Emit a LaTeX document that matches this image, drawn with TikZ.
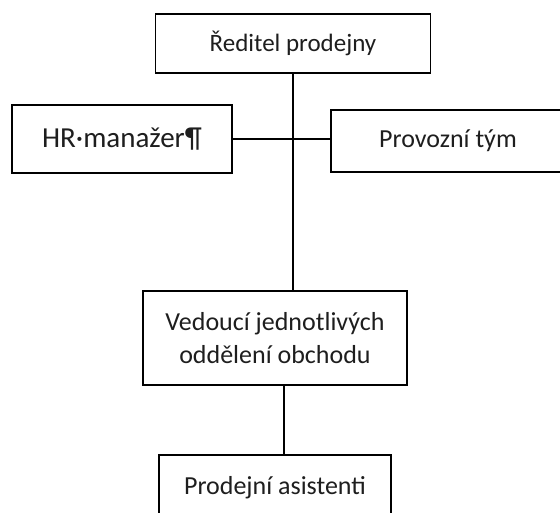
\documentclass[tikz,border=0pt]{standalone}
\usepackage{fontspec}
\setmainfont{Carlito}
\usepackage{xcolor}
\definecolor{textgray}{RGB}{30, 30, 30}

\begin{document}
\begin{tikzpicture}[x=1pt, y=-1pt,
    orgbox/.style={draw=black, line width=1.8pt, fill=white, text=textgray, font=\fontsize{26}{33}\selectfont, align=center, inner sep=0pt},
    link/.style={draw=black, line width=1.8pt}]
      \path[use as bounding box, clip] (0,0) rectangle (560,513);
      \node[orgbox, minimum width=275pt, minimum height=59pt, font=\fontsize{25}{30}\selectfont] (reditel) at (293, 43.5) {Ředitel prodejny};
      \node[orgbox, line width=2.6pt, minimum width=220pt, minimum height=68pt, font=\fontsize{29}{30}\selectfont] (hr) at (122, 139) {HR·manažer¶};
      \node[orgbox, minimum width=234pt, minimum height=62pt] (provoz) at (448, 141) {Provozní tým};
      \node[orgbox, minimum width=264pt, minimum height=94pt] (vedouci) at (275, 338) {Vedoucí jednotlivých\\oddělení obchodu};
      \node[orgbox, minimum width=232pt, minimum height=66pt] (prodej) at (275, 488) {Prodejní asistenti};

      \draw[link] (reditel.south) -- (reditel.south |- vedouci.north);
      \draw[link] (hr.east) -- (hr.east -| provoz.west);
      \draw[link] ([xshift=9pt]vedouci.south) -- ([xshift=9pt]vedouci.south |- prodej.north);
    \end{tikzpicture}
\end{document}
